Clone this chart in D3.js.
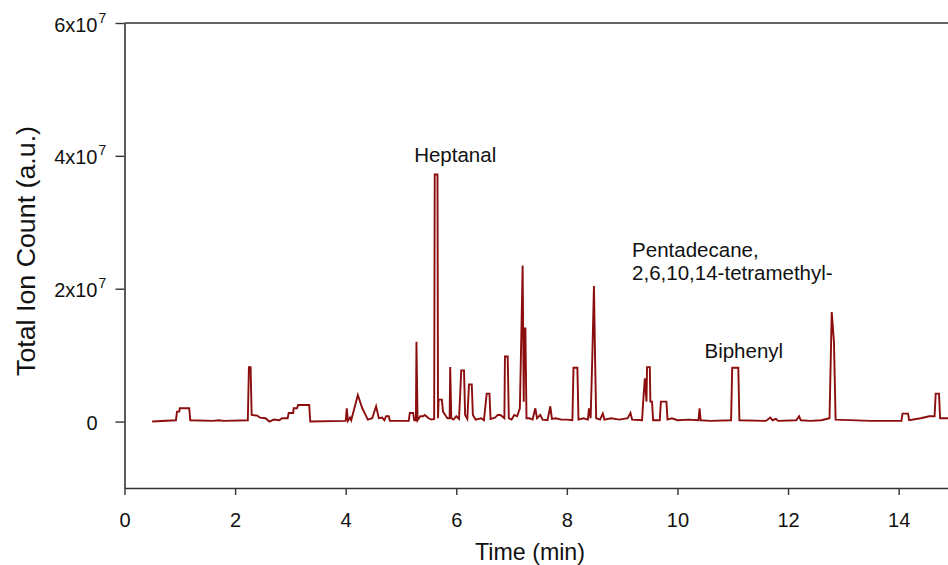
<!DOCTYPE html>
<html><head><meta charset="utf-8">
<script src="https://cdn.jsdelivr.net/npm/d3@7"></script>
<style>body{margin:0;background:#fff}svg{display:block}text{font-family:"Liberation Sans",Arial,sans-serif;fill:#111}</style>
</head><body><svg id="c" width="948" height="565"></svg>
<script>
// Retention time (min)
const times = [0.50,0.93,0.95,0.99,1.00,1.17,1.19,1.60,1.70,1.80,2.23,2.25,2.28,2.30,2.40,2.45,2.55,2.62,2.70,2.80,2.85,2.95,2.97,3.05,3.06,3.12,3.14,3.34,3.36,4.00,4.02,4.04,4.08,4.10,4.22,4.30,4.36,4.40,4.48,4.55,4.60,4.66,4.70,4.73,4.78,4.80,5.14,5.16,5.22,5.24,5.27,5.28,5.30,5.35,5.40,5.43,5.50,5.55,5.60,5.61,5.66,5.67,5.68,5.74,5.76,5.80,5.84,5.88,5.89,5.91,5.95,6.00,6.05,6.09,6.14,6.16,6.20,6.23,6.28,6.30,6.35,6.45,6.50,6.55,6.60,6.62,6.70,6.75,6.80,6.87,6.88,6.93,6.95,7.00,7.05,7.10,7.15,7.18,7.20,7.22,7.23,7.25,7.27,7.32,7.38,7.43,7.46,7.52,7.56,7.65,7.70,7.73,7.80,7.90,8.00,8.10,8.12,8.19,8.21,8.30,8.38,8.40,8.43,8.46,8.49,8.51,8.53,8.60,8.65,8.68,8.80,8.95,9.10,9.15,9.18,9.36,9.38,9.41,9.44,9.45,9.50,9.51,9.54,9.56,9.68,9.70,9.80,9.82,9.90,10.00,10.20,10.38,10.40,10.42,10.60,10.97,10.99,11.10,11.12,11.60,11.68,11.72,11.78,11.82,12.15,12.20,12.23,12.40,12.60,12.75,12.79,12.83,12.86,13.50,14.05,14.07,14.17,14.19,14.40,14.55,14.65,14.67,14.73,14.75,14.95];
// Total ion count (x10^7)
const counts = [0.00,0.02,0.15,0.15,0.20,0.20,0.02,0.01,0.02,0.01,0.02,0.82,0.82,0.10,0.09,0.06,0.05,0.00,0.03,0.02,0.05,0.05,0.13,0.13,0.20,0.20,0.25,0.25,0.00,0.01,0.20,0.01,0.06,0.02,0.40,0.20,0.10,0.03,0.05,0.23,0.05,0.06,0.02,0.08,0.08,0.01,0.01,0.13,0.13,0.02,0.02,1.20,0.02,0.08,0.08,0.10,0.05,0.03,0.04,3.72,3.72,0.05,0.33,0.33,0.15,0.10,0.05,0.05,0.82,0.05,0.03,0.08,0.04,0.77,0.77,0.10,0.04,0.56,0.56,0.10,0.03,0.05,0.02,0.42,0.42,0.04,0.06,0.10,0.10,0.05,0.98,0.98,0.05,0.03,0.10,0.08,0.20,1.45,2.35,0.30,1.40,1.40,0.05,0.05,0.03,0.20,0.05,0.10,0.03,0.02,0.23,0.04,0.05,0.03,0.03,0.02,0.81,0.81,0.03,0.05,0.03,0.20,0.05,0.97,2.04,0.97,0.05,0.03,0.12,0.03,0.05,0.03,0.05,0.13,0.03,0.02,0.30,0.65,0.30,0.82,0.82,0.30,0.30,0.02,0.02,0.30,0.30,0.03,0.05,0.02,0.03,0.02,0.20,0.02,0.01,0.02,0.81,0.81,0.02,0.01,0.06,0.02,0.04,0.01,0.02,0.08,0.02,0.01,0.02,0.05,1.65,1.20,0.03,0.01,0.01,0.12,0.12,0.02,0.05,0.08,0.08,0.42,0.42,0.05,0.05];
const xTicks = [0,2,4,6,8,10,12,14];
const yTicks = [0,2,4,6]; // x10^7
const labelText = [["Heptanal"], ["Pentadecane,","2,6,10,14-tetramethyl-"], ["Biphenyl"]];
const labelT = [5.98, 9.18, 11.2];
const labelV = [3.91, 2.47, 0.95];
const labelAnchor = ["middle", "start", "middle"];

const svg = d3.select("#c");
const x = d3.scaleLinear().domain([0, 15.2]).range([124.5, 965]);
const y = d3.scaleLinear().domain([-1, 6]).range([488, 23]);
const axisColor = "#333";

// frame top line
svg.append("line").attr("x1",124.5).attr("x2",970).attr("y1",y(6)).attr("y2",y(6))
  .attr("stroke",axisColor).attr("stroke-width",1.6);

const gx = svg.append("g").attr("transform",`translate(0,${y(-1)})`)
  .call(d3.axisBottom(x).tickValues(xTicks).tickSize(7).tickSizeOuter(0).tickFormat(d3.format("d")));
gx.select(".domain").attr("stroke",axisColor).attr("stroke-width",1.6);
gx.selectAll(".tick line").attr("stroke",axisColor).attr("stroke-width",1.4);
gx.selectAll(".tick text").attr("font-size",20).attr("y",39).attr("dy",0).style("fill","#111");

const gy = svg.append("g").attr("transform",`translate(${x(0)},0)`)
  .call(d3.axisLeft(y).tickValues(yTicks).tickSize(9).tickSizeOuter(0).tickFormat(""));
gy.select(".domain").attr("stroke",axisColor).attr("stroke-width",1.6);
gy.selectAll(".tick line").attr("stroke",axisColor).attr("stroke-width",1.4);
gy.selectAll(".tick").each(function(d){
  const g = d3.select(this);
  g.append("text").attr("x",-27).attr("y",8).attr("text-anchor","end")
    .attr("font-size",20).style("fill","#111").text(d === 0 ? "0" : d + "x10");
  if (d !== 0) {
    g.append("text").attr("x",-26).attr("y",-1).attr("text-anchor","start")
      .attr("font-size",14).style("fill","#111").text("7");
  }
});

// trace
const pts = times.map((t,i)=>[t, counts[i]]);
svg.append("path").datum(pts)
  .attr("d", d3.line().x(d=>x(d[0])).y(d=>y(d[1])))
  .attr("fill","none").attr("stroke","#8b0d0d").attr("stroke-width",1.9)
  .attr("stroke-linejoin","miter");

// annotations
labelText.forEach((lines,k)=>{
  const t = svg.append("text").attr("x",x(labelT[k])).attr("y",y(labelV[k]))
    .attr("text-anchor",labelAnchor[k]).attr("font-size",20.5);
  lines.forEach((s,i)=>t.append("tspan").attr("x",x(labelT[k])).attr("dy", i?23:0).text(s));
});

// axis titles
svg.append("text").attr("x",530).attr("y",560).attr("text-anchor","middle")
  .attr("font-size",24).attr("textLength",110).attr("lengthAdjust","spacingAndGlyphs").text("Time (min)");
svg.append("text").attr("transform","translate(35,251) rotate(-90)")
  .attr("text-anchor","middle").attr("font-size",25).attr("textLength",250)
  .attr("lengthAdjust","spacingAndGlyphs").text("Total Ion Count (a.u.)");
</script></body></html>
